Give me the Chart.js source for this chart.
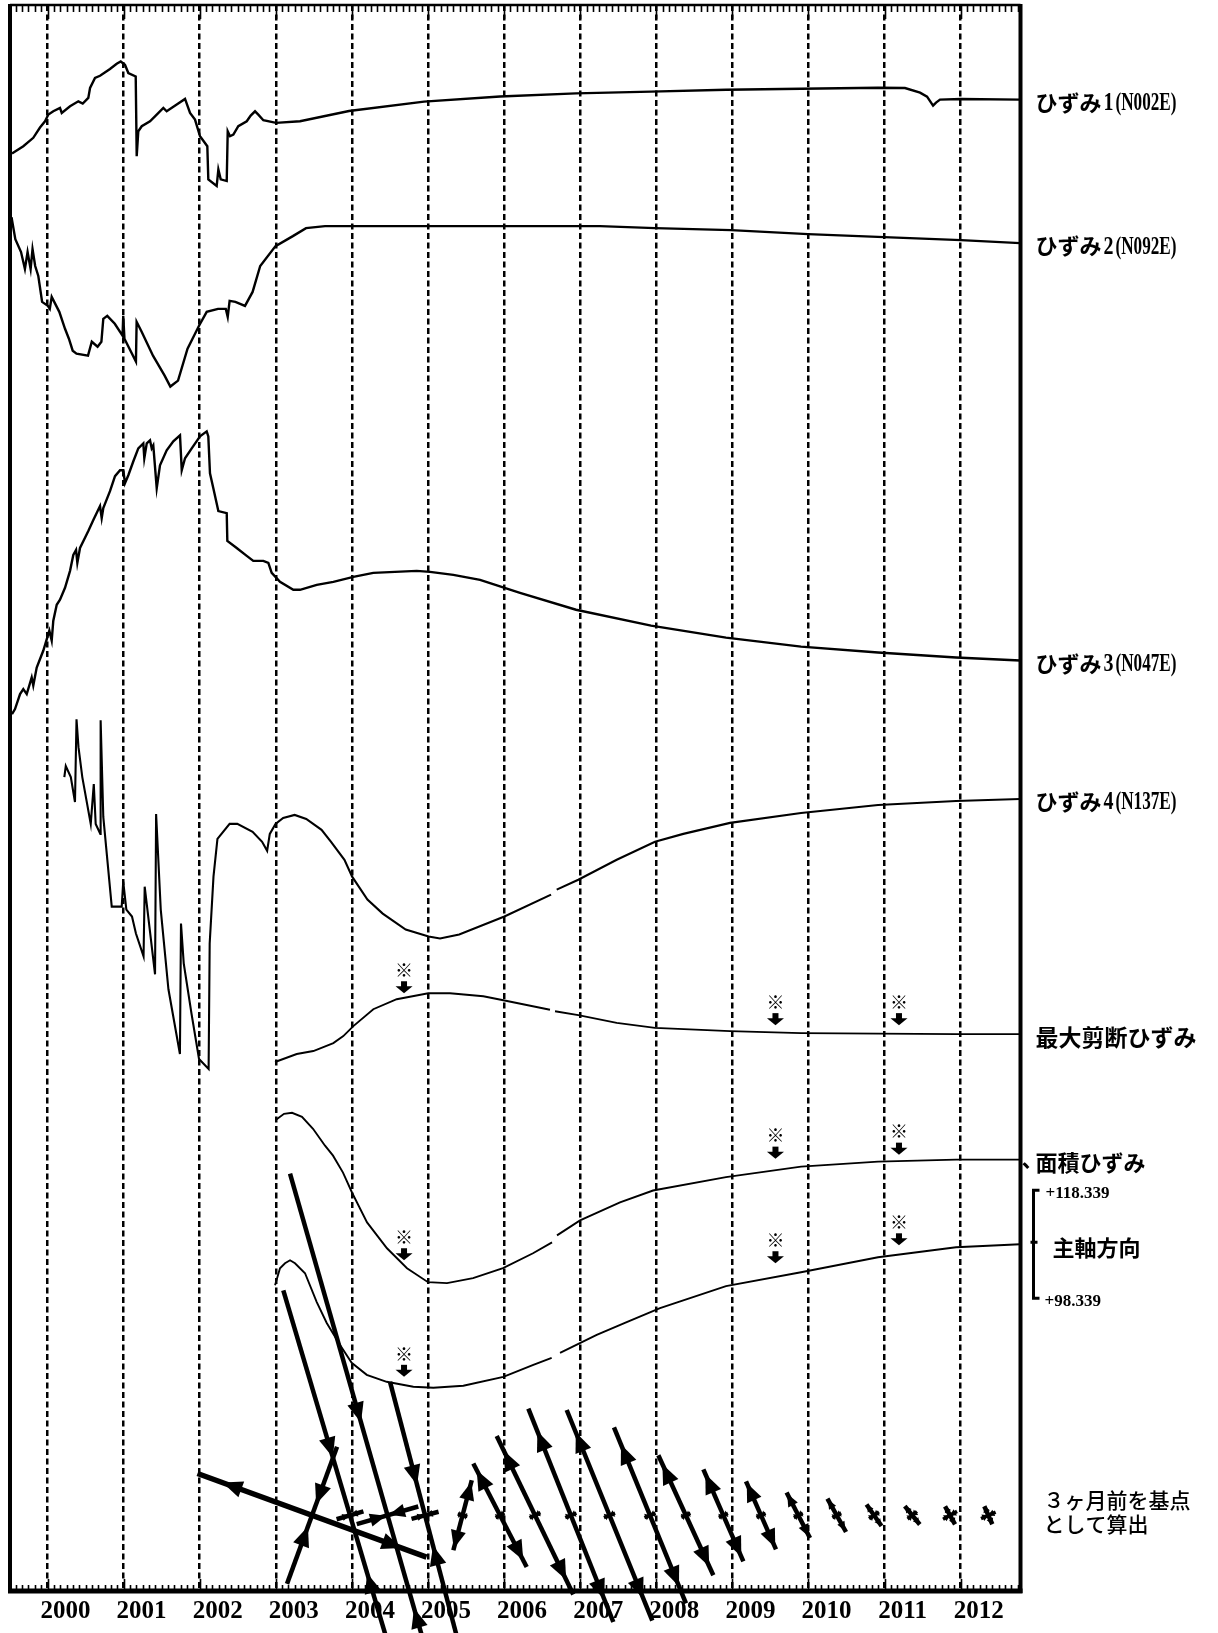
<!DOCTYPE html>
<html lang="ja">
<head>
<meta charset="utf-8">
<title>ひずみ変化</title>
<script src="https://cdn.jsdelivr.net/npm/chart.js@4.4.1/dist/chart.umd.min.js"></script>
<style>
  html, body { margin: 0; padding: 0; background: #fff; }
  #wrap { width: 1218px; height: 1633px; }
</style>
</head>
<body>
<div id="wrap"><canvas id="strainChart" width="1218" height="1633"></canvas></div>
<script>
// x: decimal year, y: trace position (offset units, 5 = top edge, 1597 = bottom edge)
const yearTicks = [2000, 2001, 2002, 2003, 2004, 2005, 2006, 2007, 2008, 2009, 2010, 2011, 2012];

const hizumi1 = [[1999.533,154],[1999.682,146.7],[1999.813,138.3],[1999.901,128],[1999.967,121.7],[2000.011,115],[2000.076,111.7],[2000.164,108.3],[2000.187,113.3],[2000.296,106.7],[2000.405,101.7],[2000.463,104],[2000.536,98.3],[2000.559,88.3],[2000.624,78.3],[2000.690,76],[2000.821,69.3],[2000.909,64],[2000.962,61.7],[2001.018,65],[2001.062,73.3],[2001.159,76.7],[2001.172,156.7],[2001.193,131.7],[2001.238,126.7],[2001.347,121.7],[2001.435,115],[2001.522,108.3],[2001.566,111.7],[2001.698,105],[2001.807,99.3],[2001.873,113.3],[2001.938,120],[2002.004,136.7],[2002.100,146.7],[2002.113,180],[2002.223,186.7],[2002.245,170],[2002.276,180],[2002.355,181.7],[2002.368,131.7],[2002.398,136.7],[2002.442,135],[2002.507,126.7],[2002.618,121.7],[2002.670,116],[2002.727,111.7],[2002.770,115],[2002.836,120.7],[2003.003,123.3],[2003.318,121.7],[2003.962,111.4],[2004.948,102],[2005.946,96.8],[2006.945,93.7],[2007.931,92],[2008.916,90],[2009.902,89],[2010.914,88],[2011.268,88.3],[2011.466,93],[2011.558,97],[2011.637,106],[2011.676,103],[2011.728,100],[2012.004,99.3],[2012.780,100]];

const hizumi2 = [[1999.527,218],[1999.577,240],[1999.652,253],[1999.703,270],[1999.738,253],[1999.778,270],[1999.803,250],[1999.838,267],[1999.879,277],[1999.929,303],[2000.004,307],[2000.030,310],[2000.055,298],[2000.155,313],[2000.230,330],[2000.281,340],[2000.331,352],[2000.381,355],[2000.532,357],[2000.582,343],[2000.658,348],[2000.708,343],[2000.733,320],[2000.785,317],[2000.884,325],[2000.986,337],[2000.995,317],[2001.011,340],[2001.162,363],[2001.171,323],[2001.237,333],[2001.386,357],[2001.539,377],[2001.614,388],[2001.715,382],[2001.840,350],[2001.991,327],[2002.092,313],[2002.241,310],[2002.343,310],[2002.368,318],[2002.393,302],[2002.469,303],[2002.595,307],[2002.695,293],[2002.795,267],[2002.996,247],[2003.224,237],[2003.397,229],[2003.647,227],[2004.154,227],[2005.008,227],[2007.260,227],[2007.983,229],[2008.982,231],[2009.994,235],[2010.993,238],[2012.004,241],[2012.780,244]];

const hizumi3 = [[1999.533,716.7],[1999.573,711.7],[1999.639,696.7],[1999.682,691.7],[1999.727,696.7],[1999.792,680],[1999.813,688],[1999.858,670],[1999.945,653],[2000.024,633],[2000.055,643],[2000.076,623],[2000.121,607],[2000.164,602],[2000.230,590],[2000.296,573],[2000.339,557],[2000.375,552],[2000.392,565],[2000.427,550],[2000.536,533],[2000.602,522],[2000.690,508],[2000.712,520],[2000.733,510],[2000.821,493],[2000.887,478],[2000.953,472],[2000.996,472],[2001.018,485],[2001.062,477],[2001.128,463],[2001.193,450],[2001.259,445],[2001.272,460],[2001.304,445],[2001.347,442],[2001.369,450],[2001.390,447],[2001.435,490],[2001.478,467],[2001.566,452],[2001.653,443],[2001.741,437],[2001.764,472],[2001.807,460],[2001.895,450],[2002.004,438],[2002.092,433],[2002.113,438],[2002.135,475],[2002.179,490],[2002.245,513],[2002.355,515],[2002.363,543],[2002.486,550],[2002.618,558],[2002.704,563],[2002.836,563],[2002.902,565],[2002.946,575],[2003.055,584],[2003.230,592],[2003.318,592],[2003.538,587],[2003.756,584],[2004.019,579],[2004.281,575],[2004.852,573],[2005.026,574],[2005.333,577],[2005.684,582],[2006.209,595],[2006.945,612],[2007.931,628],[2008.916,640],[2009.902,649],[2010.914,655],[2011.939,660],[2012.780,663]];

const hizumi4 = [[2000.221,780],[2000.240,769],[2000.306,780],[2000.361,805],[2000.381,722],[2000.407,750],[2000.457,780],[2000.568,827],[2000.608,787],[2000.633,827],[2000.694,837],[2000.698,723],[2000.733,820],[2000.844,910],[2000.975,910],[2000.995,885],[2001.036,913],[2001.110,920],[2001.162,937],[2001.262,960],[2001.277,890],[2001.413,978],[2001.427,817],[2001.488,913],[2001.589,993],[2001.740,1058],[2001.754,927],[2001.790,967],[2001.891,1017],[2001.991,1063],[2002.117,1073],[2002.131,947],[2002.181,880],[2002.233,842],[2002.393,827],[2002.494,827],[2002.695,835],[2002.820,845],[2002.886,854],[2002.921,837],[2002.996,827],[2003.097,821],[2003.248,818],[2003.400,822],[2003.601,833],[2003.726,845],[2003.902,863],[2004.003,880],[2004.204,903],[2004.405,917],[2004.707,933],[2005.008,940],[2005.158,942],[2005.410,938],[2006.004,920],[2006.617,898],[2006.650,null],[2006.691,893],[2006.975,883],[2007.480,863],[2007.983,845],[2008.355,837],[2008.969,826],[2009.902,816],[2010.914,808],[2011.939,804],[2012.780,802]];

const maxShear = [[2002.990,1066],[2003.275,1058],[2003.493,1055],[2003.756,1047],[2003.887,1040],[2004.019,1030],[2004.281,1013],[2004.589,1003],[2005.004,997],[2005.289,997],[2005.727,1000],[2005.990,1004],[2006.603,1013.5],[2006.640,null],[2006.669,1015],[2006.975,1019],[2007.480,1026.7],[2007.983,1031.7],[2008.969,1035],[2009.902,1037],[2010.914,1037.5],[2011.939,1038],[2012.780,1038]];

const areaStrain = [[2003.003,1124],[2003.108,1118],[2003.213,1117],[2003.344,1121],[2003.489,1133],[2003.647,1150],[2003.752,1160],[2003.883,1177],[2004.001,1197],[2004.199,1227],[2004.461,1253],[2004.724,1273],[2005.000,1287],[2005.250,1288],[2005.592,1283],[2005.986,1273],[2006.380,1258],[2006.630,1247],[2006.660,null],[2006.695,1240],[2006.998,1225],[2007.523,1207],[2007.957,1195],[2008.916,1181.5],[2009.902,1171],[2010.914,1166],[2011.939,1164],[2012.780,1164]];

const axisDirection = [[2002.990,1290],[2003.055,1273],[2003.121,1268],[2003.187,1265],[2003.252,1268],[2003.384,1278],[2003.538,1307],[2003.669,1328],[2003.844,1350],[2003.997,1368],[2004.195,1380],[2004.457,1387],[2004.807,1392],[2005.070,1393],[2005.464,1391],[2005.990,1382],[2006.384,1370],[2006.625,1363],[2006.680,null],[2006.735,1358],[2007.217,1340],[2007.611,1327],[2008.049,1313],[2008.916,1291],[2009.902,1277],[2010.914,1262],[2011.939,1252],[2012.780,1249]];

// ※ marks: year and arrow tip position
const markYears = [2004.685, 2009.566, 2011.189, 2004.685, 2009.566, 2011.189, 2004.685, 2009.566, 2011.189];
const markTipY  = [997, 1029, 1029, 1265, 1163, 1159, 1382, 1268, 1250];

// principal strain glyphs (3ヶ月前を基点): centre year, long-axis half vector, kind, short-axis half length
const glyphRowY      = 1521;
const glyphYears     = [2003.476, 2003.975, 2004.468, 2004.961, 2005.454, 2005.946, 2006.406, 2006.877, 2007.385, 2007.917, 2008.388, 2008.881, 2009.376, 2009.866, 2010.371, 2010.861, 2011.364, 2011.860, 2012.363];
const glyphLongDx    = [-114.5, -66.7, -97.5, -35, 9.2, -26.7, -38.3, -42.5, -42.8, -36, -27.5, -20, -15, -11.7, -9.3, -7.5, -7.5, -5, -4];
const glyphLongDy    = [-41.8, -225, -341.7, -133.4, -35, -51.7, -79.2, -106.7, -105.3, -88, -60, -46, -34, -22.8, -16.7, -10.8, -9.2, -9, -9];
const glyphLongKind  = ['ext', 'comp', 'comp', 'comp', 'ext', 'ext', 'ext', 'ext', 'ext', 'ext', 'ext', 'ext', 'ext', 'ext', 'ext', 'ext', 'ext', 'ext', 'ext'];
const glyphShortLen  = [73, 14, 32, 14, 5, 5, 6, 6, 6, 6, 5, 5, 5, 5, 5, 6, 6, 8, 8];
const glyphShortKind = ['comp', 'comp', 'comp', 'comp', 'comp', 'comp', 'comp', 'comp', 'comp', 'comp', 'comp', 'comp', 'comp', 'comp', 'comp', 'comp', 'comp', 'comp', 'comp'];

const JP = '"Noto Sans CJK JP", sans-serif';
const SERIF = '"Liberation Serif", "Times New Roman", serif';

function toPoints(arr) {
    return arr.map(p => ({ x: p[0], y: p[1] }));
}

function trace(data, width) {
    return {
        data: toPoints(data),
        borderColor: '#000',
        borderWidth: width,
        pointRadius: 0,
        tension: 0,
        fill: false,
        spanGaps: false
    };
}

function arrowHead(ctx, tx, ty, ux, uy, len, hw) {
    const bx = tx - ux * len, by = ty - uy * len;
    ctx.beginPath();
    ctx.moveTo(tx, ty);
    ctx.lineTo(bx - uy * hw, by + ux * hw);
    ctx.lineTo(bx + uy * hw, by - ux * hw);
    ctx.closePath();
    ctx.fill();
}

function strainAxis(ctx, cx, cy, vx, vy, kind, lw) {
    const L = Math.hypot(vx, vy);
    const ux = vx / L, uy = vy / L;
    ctx.lineWidth = lw;
    ctx.beginPath();
    ctx.moveTo(cx - vx, cy - vy);
    ctx.lineTo(cx + vx, cy + vy);
    ctx.stroke();
    const hl = Math.min(20, Math.max(6, 0.5 * L));
    const hw = Math.max(3.5, hl * 0.42);
    [1, -1].forEach(s => {
        if (kind === 'ext') {
            const d = Math.min(L, 0.7 * L + hl / 2);
            arrowHead(ctx, cx + s * ux * d, cy + s * uy * d, s * ux, s * uy, hl, hw);
        } else {
            const d = Math.max(0, 0.3 * L - hl / 2);
            arrowHead(ctx, cx + s * ux * d, cy + s * uy * d, -s * ux, -s * uy, Math.min(hl, L * 0.8), hw);
        }
    });
}

const sheetPlugin = {
    id: 'sheet',
    beforeDraw(chart) {
        const ctx = chart.ctx;
        ctx.save();
        ctx.fillStyle = '#fff';
        ctx.fillRect(0, 0, chart.width, chart.height);
        ctx.restore();
    },
    afterDraw(chart) {
        const ctx = chart.ctx;
        const xs = chart.scales.x, ys = chart.scales.y;
        const a = chart.chartArea;
        ctx.save();
        ctx.strokeStyle = '#000';
        ctx.fillStyle = '#000';

        // frame
        ctx.lineWidth = 4;
        ctx.beginPath();
        ctx.moveTo(a.left, a.top - 1); ctx.lineTo(a.left, a.bottom + 2);
        ctx.moveTo(a.right, a.top - 1); ctx.lineTo(a.right, a.bottom + 2);
        ctx.stroke();
        ctx.lineWidth = 2.5;
        ctx.beginPath(); ctx.moveTo(a.left, a.top); ctx.lineTo(a.right, a.top); ctx.stroke();
        ctx.lineWidth = 5;
        ctx.beginPath(); ctx.moveTo(a.left - 2, a.bottom); ctx.lineTo(a.right + 2, a.bottom); ctx.stroke();

        // monthly ticks, top and bottom, pointing inward
        ctx.lineWidth = 1.6;
        ctx.beginPath();
        for (let m = Math.ceil(xs.min * 12); m <= Math.floor(xs.max * 12); m++) {
            const px = Math.round(xs.getPixelForValue(m / 12)) + 0.5;
            const major = m % 12 === 0;
            ctx.moveTo(px, a.top); ctx.lineTo(px, a.top + (major ? 14 : 7));
            ctx.moveTo(px, a.bottom); ctx.lineTo(px, a.bottom - (major ? 12 : 6));
        }
        ctx.stroke();

        // principal strain glyphs
        ctx.lineCap = 'butt';
        const cy = ys.getPixelForValue(glyphRowY);
        glyphYears.forEach((yr, i) => {
            const cx = xs.getPixelForValue(yr);
            const vx = glyphLongDx[i], vy = glyphLongDy[i];
            const L = Math.hypot(vx, vy);
            strainAxis(ctx, cx, cy, vx, vy, glyphLongKind[i], i === 0 ? 5.5 : 4.5);
            const S = glyphShortLen[i];
            strainAxis(ctx, cx, cy, -vy / L * S, vx / L * S, glyphShortKind[i], S > 10 ? 4.5 : 3.5);
        });

        // ※ marks with down arrows
        markYears.forEach((yr, i) => {
            const px = xs.getPixelForValue(yr);
            const tip = ys.getPixelForValue(markTipY[i]);
            ctx.beginPath();
            ctx.moveTo(px, tip);
            ctx.lineTo(px - 8.5, tip - 7);
            ctx.lineTo(px + 8.5, tip - 7);
            ctx.closePath();
            ctx.fill();
            ctx.fillRect(px - 3, tip - 12, 6, 6);
            ctx.font = 'bold 18px ' + JP;
            ctx.textAlign = 'center';
            ctx.textBaseline = 'middle';
            ctx.fillText('※', px, tip - 23);
        });

        // right-hand labels
        ctx.textAlign = 'left';
        ctx.textBaseline = 'middle';
        const lx = a.right + 15;
        const endY = arr => ys.getPixelForValue(arr[arr.length - 1][1]) + 3;
        const strainLabel = (num, code, y) => {
            ctx.font = 'bold 22px ' + JP;
            ctx.fillText('ひずみ', lx, y);
            ctx.font = 'bold 25px ' + SERIF;
            ctx.fillText(num, lx + 68, y + 1, 10);
            ctx.fillText(code, lx + 80, y + 1, 61);
        };
        strainLabel('1', '(N002E)', endY(hizumi1));
        strainLabel('2', '(N092E)', endY(hizumi2));
        strainLabel('3', '(N047E)', endY(hizumi3));
        strainLabel('4', '(N137E)', endY(hizumi4));

        ctx.font = 'bold 23px ' + JP;
        ctx.fillText('最大剪断ひずみ', lx, endY(maxShear));
        const ay = endY(areaStrain);
        ctx.font = 'bold 22px ' + JP;
        ctx.fillText('面積ひずみ', lx, ay);
        ctx.fillText('、', a.right + 1, ay - 4);

        // bracket for 主軸方向 scale
        const by = ys.getPixelForValue(axisDirection[axisDirection.length - 1][1]);
        const bx = a.right + 13;
        ctx.lineWidth = 3;
        ctx.beginPath();
        ctx.moveTo(bx + 6, by - 54); ctx.lineTo(bx, by - 54); ctx.lineTo(bx, by + 54); ctx.lineTo(bx + 6, by + 54);
        ctx.moveTo(bx - 3, by - 2); ctx.lineTo(bx + 4, by - 2);
        ctx.stroke();
        ctx.font = 'bold 17px ' + SERIF;
        ctx.fillText('+118.339', bx + 12, by - 51, 67);
        ctx.fillText('+98.339', bx + 11, by + 57, 60);
        ctx.font = 'bold 22px ' + JP;
        ctx.fillText('主軸方向', bx + 19, by + 3);

        ctx.font = '500 21px ' + JP;
        ctx.fillText('３ヶ月前を基点', a.right + 23, cy - 15);
        ctx.fillText('として算出', a.right + 23, cy + 9);
        ctx.restore();
    }
};

document.addEventListener('DOMContentLoaded', function() {
    const canvas = document.getElementById('strainChart');
    new Chart(canvas.getContext('2d'), {
        type: 'line',
        data: {
            datasets: [
                trace(hizumi1, 2.4),
                trace(hizumi2, 2.4),
                trace(hizumi3, 2.4),
                trace(hizumi4, 2.1),
                trace(maxShear, 1.9),
                trace(areaStrain, 1.9),
                trace(axisDirection, 1.9)
            ]
        },
        options: {
            responsive: false,
            devicePixelRatio: 1,
            animation: false,
            layout: { padding: { left: 10, top: 5, right: 197.5, bottom: 0 } },
            plugins: { legend: { display: false }, tooltip: { enabled: false } },
            scales: {
                x: {
                    type: 'linear',
                    min: 1999.507,
                    max: 2012.786,
                    afterBuildTicks: scale => { scale.ticks = yearTicks.map(v => ({ value: v })); },
                    grid: { color: '#000', lineWidth: 2.5, drawTicks: false },
                    border: { display: false, dash: [6, 3.5] },
                    ticks: {
                        autoSkip: false,
                        maxRotation: 0,
                        padding: 6,
                        labelOffset: 18,
                        color: '#000',
                        font: { family: 'Liberation Serif', size: 25, weight: 'bold' },
                        callback: v => String(v)
                    }
                },
                y: {
                    type: 'linear',
                    display: false,
                    reverse: true,
                    min: 5,
                    max: 1597
                }
            }
        },
        plugins: [sheetPlugin]
    });
});
</script>
</body>
</html>
